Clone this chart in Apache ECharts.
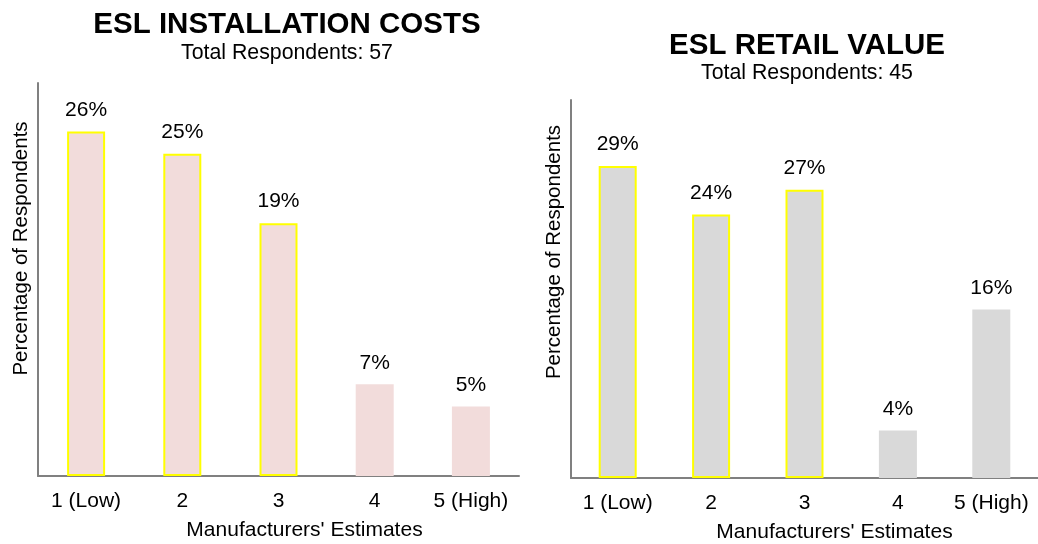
<!DOCTYPE html>
<html>
<head>
<meta charset="utf-8">
<script src="https://cdn.jsdelivr.net/npm/echarts@6/dist/echarts.min.js"></script>
<style>
html,body{margin:0;padding:0;background:#fff;}
#c{width:1038px;height:544px;}
</style>
</head>
<body>
<div id="c"></div>
<script>
var categories = ['1 (Low)', '2', '3', '4', '5 (High)'];
var installValues = [26.3, 24.6, 19.3, 7.0, 5.3];
var retailValues = [28.9, 24.4, 26.7, 4.4, 15.6];
var highlighted = [true, true, true, false, false];
var titles = ['ESL INSTALLATION COSTS', 'ESL RETAIL VALUE'];
var subtitles = ['Total Respondents: 57', 'Total Respondents: 45'];
var xName = "Manufacturers' Estimates";
var yName = 'Percentage of Respondents';

var FONT = 'Liberation Sans, Arial, sans-serif';

function buildData(vals, fill) {
  return vals.map(function (v, i) {
    return {
      value: v,
      itemStyle: highlighted[i]
        ? { color: fill, borderColor: '#ffff00', borderWidth: 2 }
        : { color: fill, borderWidth: 0 }
    };
  });
}

var axisLine = { show: true, lineStyle: { color: '#808080', width: 2 } };

function xAxis(gi, padLeft) {
  return {
    type: 'category', gridIndex: gi, data: categories,
    axisLine: axisLine, axisTick: { show: false },
    axisLabel: { interval: 0, fontFamily: FONT, fontSize: 21, color: '#000', margin: 15 },
    name: xName, nameLocation: 'middle', nameGap: 44,
    nameTextStyle: { fontFamily: FONT, fontSize: 21, color: '#000', padding: [0, 0, 0, padLeft] }
  };
}
function yAxis(gi, max, padUp) {
  return {
    type: 'value', gridIndex: gi, min: 0, max: max,
    axisLine: axisLine, axisTick: { show: false }, axisLabel: { show: false },
    splitLine: { show: false },
    name: yName, nameLocation: 'middle', nameRotate: 90, nameGap: 6,
    nameTextStyle: { fontFamily: FONT, fontSize: 20.5, color: '#000', padding: [0, 0, 0, padUp] }
  };
}
var label = {
  show: true, position: 'top', distance: 11,
  fontFamily: FONT, fontSize: 21, color: '#000',
  formatter: function (p) { return Math.round(p.value) + '%'; }
};

var chart = echarts.init(document.getElementById('c'), null, { renderer: 'canvas' });
chart.setOption({
  animation: false,
  backgroundColor: '#fff',
  title: [
    { text: titles[0], subtext: subtitles[0], left: 282, top: 5, textAlign: 'center', itemGap: 3,
      textStyle: { fontFamily: FONT, fontSize: 29.5, fontWeight: 'bold', color: '#000' },
      subtextStyle: { fontFamily: FONT, fontSize: 21.3, color: '#000' } },
    { text: titles[1], subtext: subtitles[1], left: 802, top: 26, textAlign: 'center', itemGap: 2,
      textStyle: { fontFamily: FONT, fontSize: 29.5, fontWeight: 'bold', color: '#000' },
      subtextStyle: { fontFamily: FONT, fontSize: 21.3, color: '#000' } }
  ],
  grid: [
    { left: 38, top: 83, width: 481, height: 393, containLabel: false, outerBoundsMode: 'none' },
    { left: 571, top: 100, width: 467, height: 378, containLabel: false, outerBoundsMode: 'none' }
  ],
  xAxis: [xAxis(0, 52), xAxis(1, 60)],
  yAxis: [yAxis(0, 30, 62), yAxis(1, 35, 74)],
  series: [
    { type: 'bar', xAxisIndex: 0, yAxisIndex: 0, barWidth: 38, data: buildData(installValues, '#f2dcdb'), label: label },
    { type: 'bar', xAxisIndex: 1, yAxisIndex: 1, barWidth: 38, data: buildData(retailValues, '#d9d9d9'), label: label }
  ]
});
</script>
</body>
</html>
